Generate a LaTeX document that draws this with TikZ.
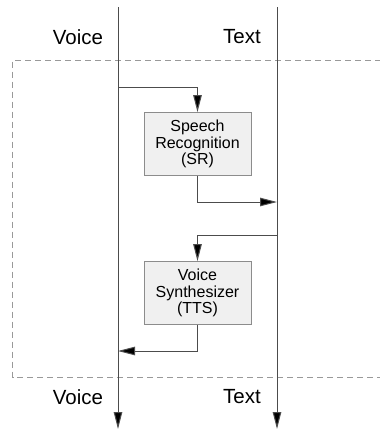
\documentclass[tikz,border=0pt]{standalone}
\usepackage{fontspec}
\setmainfont{Liberation Sans}
\usetikzlibrary{arrows.meta}
\begin{document}
\begin{tikzpicture}[x=1pt,y=-1pt,
  flow/.style={draw=black!70, line width=1pt, -{Triangle[length=17pt,width=8.5pt,fill=black]}},
  procbox/.style={draw=black!45, fill=black!6, line width=0.8pt, minimum width=107pt,
    minimum height=63pt, align=center, inner sep=0pt,
    font=\fontsize{16}{16.8}\selectfont},
  lane/.style={font=\fontsize{20.5}{22}\selectfont, inner sep=0pt},
  frame/.style={draw=black!40, line width=0.9pt, dash pattern=on 6pt off 4pt}]
\useasboundingbox (0,0) rectangle (380,434);

% dashed system boundary (open on the right)
\draw[frame] (381,60) -- (12.7,60) -- (12.7,377) -- (381,377);

% lane endpoints
\coordinate (vtop) at (118,7);
\coordinate (vbot) at (118,429);
\coordinate (ttop) at (277,7);
\coordinate (tbot) at (277,429);

% lane labels
\node[lane] (vin)  at (78,37)  {Voice};
\node[lane] (tin)  at (242,37) {Text};
\node[lane] (vout) at (78,397) {Voice};
\node[lane] (tout) at (242,397) {Text};

% processing blocks
\node[procbox] (sr)  at (197.5,144) {Speech\\Recognition\\(SR)};
\node[procbox] (tts) at (197.5,293) {Voice\\Synthesizer\\(TTS)};

% lanes
\draw[flow] (vtop) -- (vbot);
\draw[flow] (ttop) -- (tbot);

% voice -> SR -> text
\coordinate (a1) at (118,87);
\coordinate (a2) at (277,202);
\draw[flow] (a1) -| (sr.north);
\draw[flow] (sr.south) |- (a2);

% text -> TTS -> voice
\coordinate (b1) at (277,235);
\coordinate (b2) at (118,351);
\draw[flow] (b1) -| (tts.north);
\draw[flow] (tts.south) |- (b2);
\end{tikzpicture}
\end{document}
